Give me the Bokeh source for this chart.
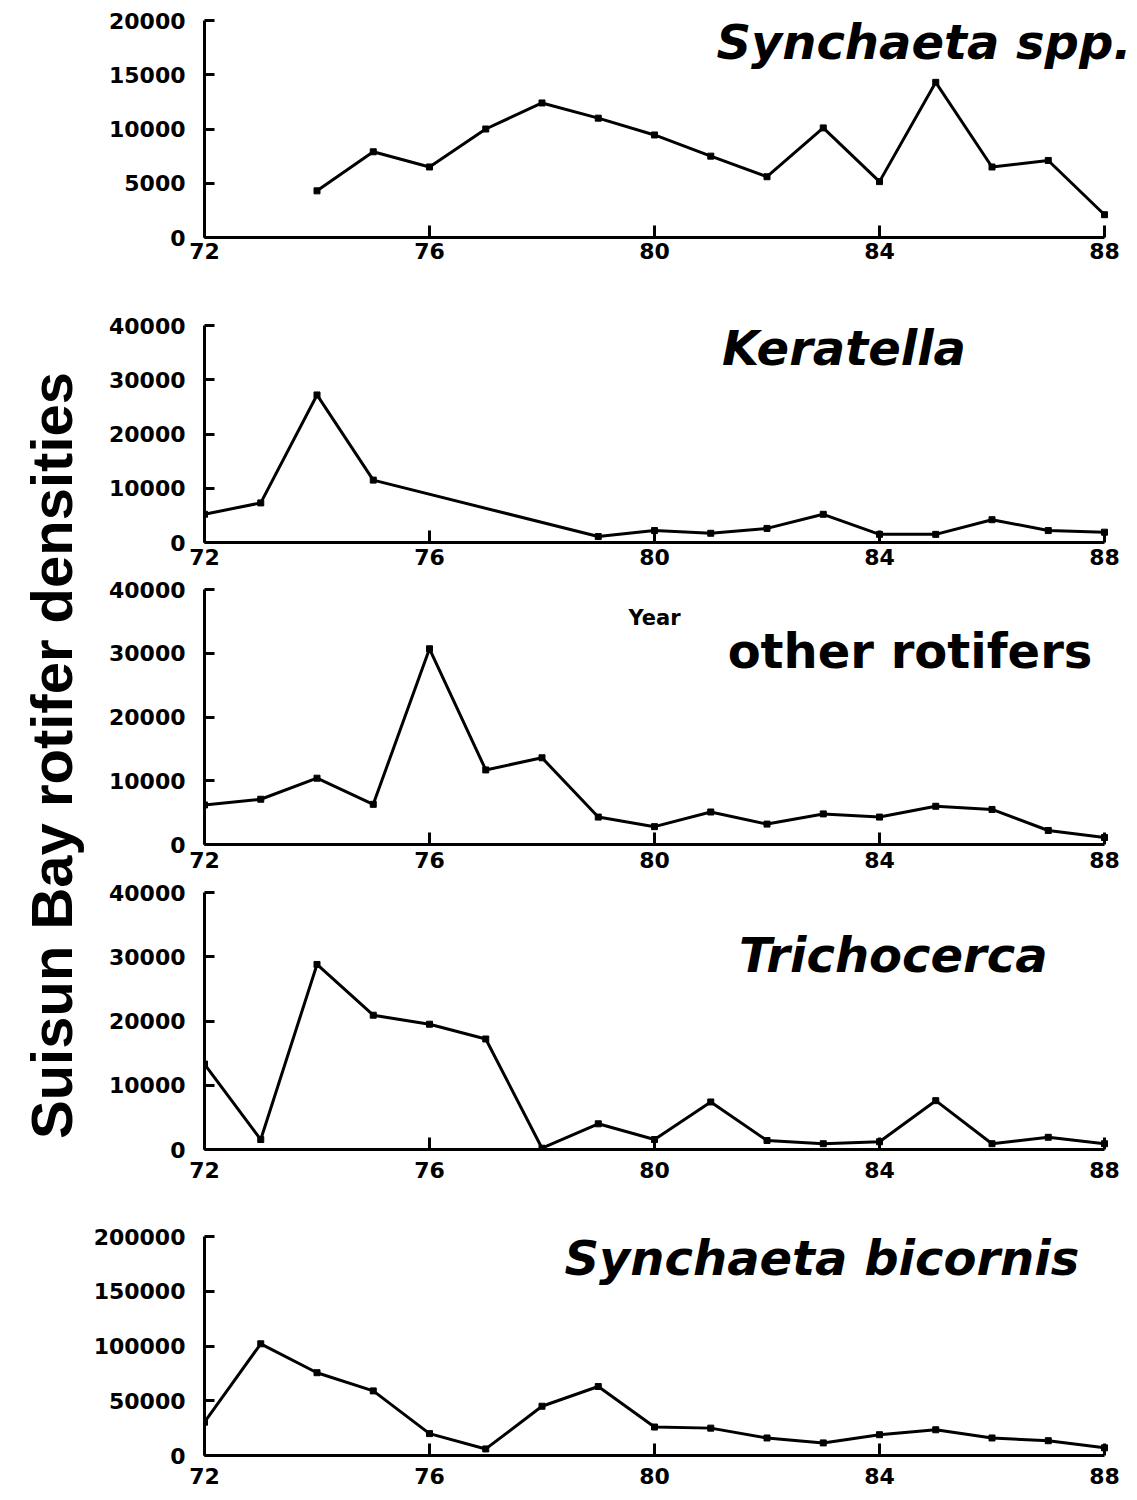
from bokeh.plotting import figure
from bokeh.layouts import row, column
from bokeh.models import Range1d, FixedTicker, Label
from bokeh.embed import file_html
from bokeh.resources import INLINE

# ---------------- data ----------------
x_ticks = [72, 76, 80, 84, 88]
x_tick_labels = ["72", "76", "80", "84", "88"]

synchaeta_years = [74, 75, 76, 77, 78, 79, 80, 81, 82, 83, 84, 85, 86, 87, 88]
synchaeta_vals = [4300, 7900, 6500, 10000, 12400, 11000, 9450, 7500, 5600, 10100, 5150, 14300, 6500, 7100, 2100]
synchaeta_yticks = [0, 5000, 10000, 15000, 20000]

keratella_years = [72, 73, 74, 75, 79, 80, 81, 82, 83, 84, 85, 86, 87, 88]
keratella_vals = [5200, 7300, 27200, 11500, 1100, 2200, 1700, 2600, 5200, 1500, 1500, 4200, 2200, 1900]
keratella_yticks = [0, 10000, 20000, 30000, 40000]

other_years = list(range(72, 89))
other_vals = [6200, 7100, 10400, 6300, 30700, 11700, 13600, 4300, 2800, 5100, 3200, 4800, 4300, 6000, 5500, 2200, 1100]
other_yticks = [0, 10000, 20000, 30000, 40000]

tricho_years = list(range(72, 89))
tricho_vals = [13300, 1550, 28800, 20900, 19500, 17200, 200, 4000, 1550, 7400, 1400, 900, 1200, 7600, 900, 1900, 900]
tricho_yticks = [0, 10000, 20000, 30000, 40000]

bicornis_years = list(range(72, 89))
bicornis_vals = [30400, 102000, 75600, 59000, 20000, 6000, 45000, 63000, 26000, 25000, 16000, 11500, 19000, 23500, 16000, 13500, 7000]
bicornis_yticks = [0, 50000, 100000, 150000, 200000]

panel_titles = ["Synchaeta spp.", "Keratella", "other rotifers", "Trichocerca", "Synchaeta bicornis"]
y_label_text = "Suisun Bay rotifer densities"
x_label_text = "Year"

TICK_FONT = "DejaVu Sans"
LAB_W = 90
LEFT = 113          # panel left border -> frame starts at LAB_W + LEFT
FRAME_W = 932       # frame runs to the right edge of the page
X_END = 72 + 16 * FRAME_W / 900.0


def make_panel(xs, ys, yticks, title, title_x, title_y, title_italic,
               frame_h, top, bottom, x_standoff):
    p = figure(frame_width=FRAME_W, frame_height=frame_h,
               min_border_left=LEFT, min_border_right=0,
               min_border_top=top, min_border_bottom=bottom,
               x_range=Range1d(72, X_END), y_range=Range1d(0, yticks[-1]),
               toolbar_location=None, output_backend="svg")
    p.outline_line_color = None
    p.xgrid.visible = False
    p.ygrid.visible = False

    for ax in (p.xaxis[0], p.yaxis[0]):
        ax.axis_line_width = 3
        ax.axis_line_color = "black"
        ax.major_tick_line_width = 3
        ax.major_tick_line_color = "black"
        ax.minor_tick_line_color = None
        ax.major_tick_out = 0
        ax.major_label_text_font = TICK_FONT
        ax.major_label_text_font_style = "bold"
        ax.major_label_text_font_size = "22px"
        ax.major_label_text_color = "black"

    p.xaxis[0].bounds = (72, 88)
    p.xaxis[0].ticker = FixedTicker(ticks=x_ticks)
    p.xaxis[0].major_label_overrides = {t: l for t, l in zip(x_ticks, x_tick_labels)}
    p.xaxis[0].major_tick_in = 12
    p.xaxis[0].major_label_standoff = x_standoff

    p.yaxis[0].ticker = FixedTicker(ticks=yticks)
    p.yaxis[0].major_label_overrides = {t: str(t) for t in yticks}
    p.yaxis[0].major_tick_in = 10
    p.yaxis[0].major_label_standoff = 19

    p.line(xs, ys, line_color="black", line_width=3)
    p.scatter(xs, ys, marker="square", size=6, fill_color="black", line_color="black")

    p.add_layout(Label(x=title_x, y=title_y, text=title,
                       text_font="DejaVu Sans",
                       text_font_style="bold italic" if title_italic else "bold",
                       text_font_size="48px", text_color="black",
                       text_baseline="middle", text_align="left"))
    return p


p1 = make_panel(synchaeta_years, synchaeta_vals, synchaeta_yticks, panel_titles[0],
                81.1, 18000, True, 217, 20, 62, 5)
p2 = make_panel(keratella_years, keratella_vals, keratella_yticks, panel_titles[1],
                81.2, 35900, True, 217, 26, 33, 6)
p3 = make_panel(other_years, other_vals, other_yticks, panel_titles[2],
                81.3, 30300, False, 255, 14, 34, 7)
p3.add_layout(Label(x=80, y=35600, text=x_label_text, text_font="DejaVu Sans",
                    text_font_style="bold", text_font_size="21px", text_color="black",
                    text_align="center", text_baseline="middle"))
p4 = make_panel(tricho_years, tricho_vals, tricho_yticks, panel_titles[3],
                81.5, 30350, True, 257, 14, 42, 12)
p5 = make_panel(bicornis_years, bicornis_vals, bicornis_yticks, panel_titles[4],
                78.4, 180800, True, 219, 45, 40, 12)

# left strip carrying the shared vertical axis title
lab = figure(width=LAB_W, height=1495, x_range=Range1d(0, 1), y_range=Range1d(0, 1),
             min_border_left=83, min_border_right=0, min_border_top=15, min_border_bottom=0,
             toolbar_location=None, output_backend="svg")
lab.xaxis.visible = False
lab.grid.visible = False
lab.outline_line_color = None
ya = lab.yaxis[0]
ya.ticker = FixedTicker(ticks=[])
ya.axis_line_color = None
ya.major_tick_in = 0
ya.major_tick_out = 0
ya.minor_tick_in = 0
ya.minor_tick_out = 0
ya.major_label_text_font_size = "0px"
ya.major_label_standoff = 0
ya.axis_label = y_label_text
ya.axis_label_standoff = 0
ya.axis_label_text_font = "Liberation Sans"
ya.axis_label_text_font_style = "bold"
ya.axis_label_text_font_size = "58px"
ya.axis_label_text_color = "black"

layout = row(lab, column(p1, p2, p3, p4, p5))

open("out.html", "w").write(file_html(layout, INLINE))
